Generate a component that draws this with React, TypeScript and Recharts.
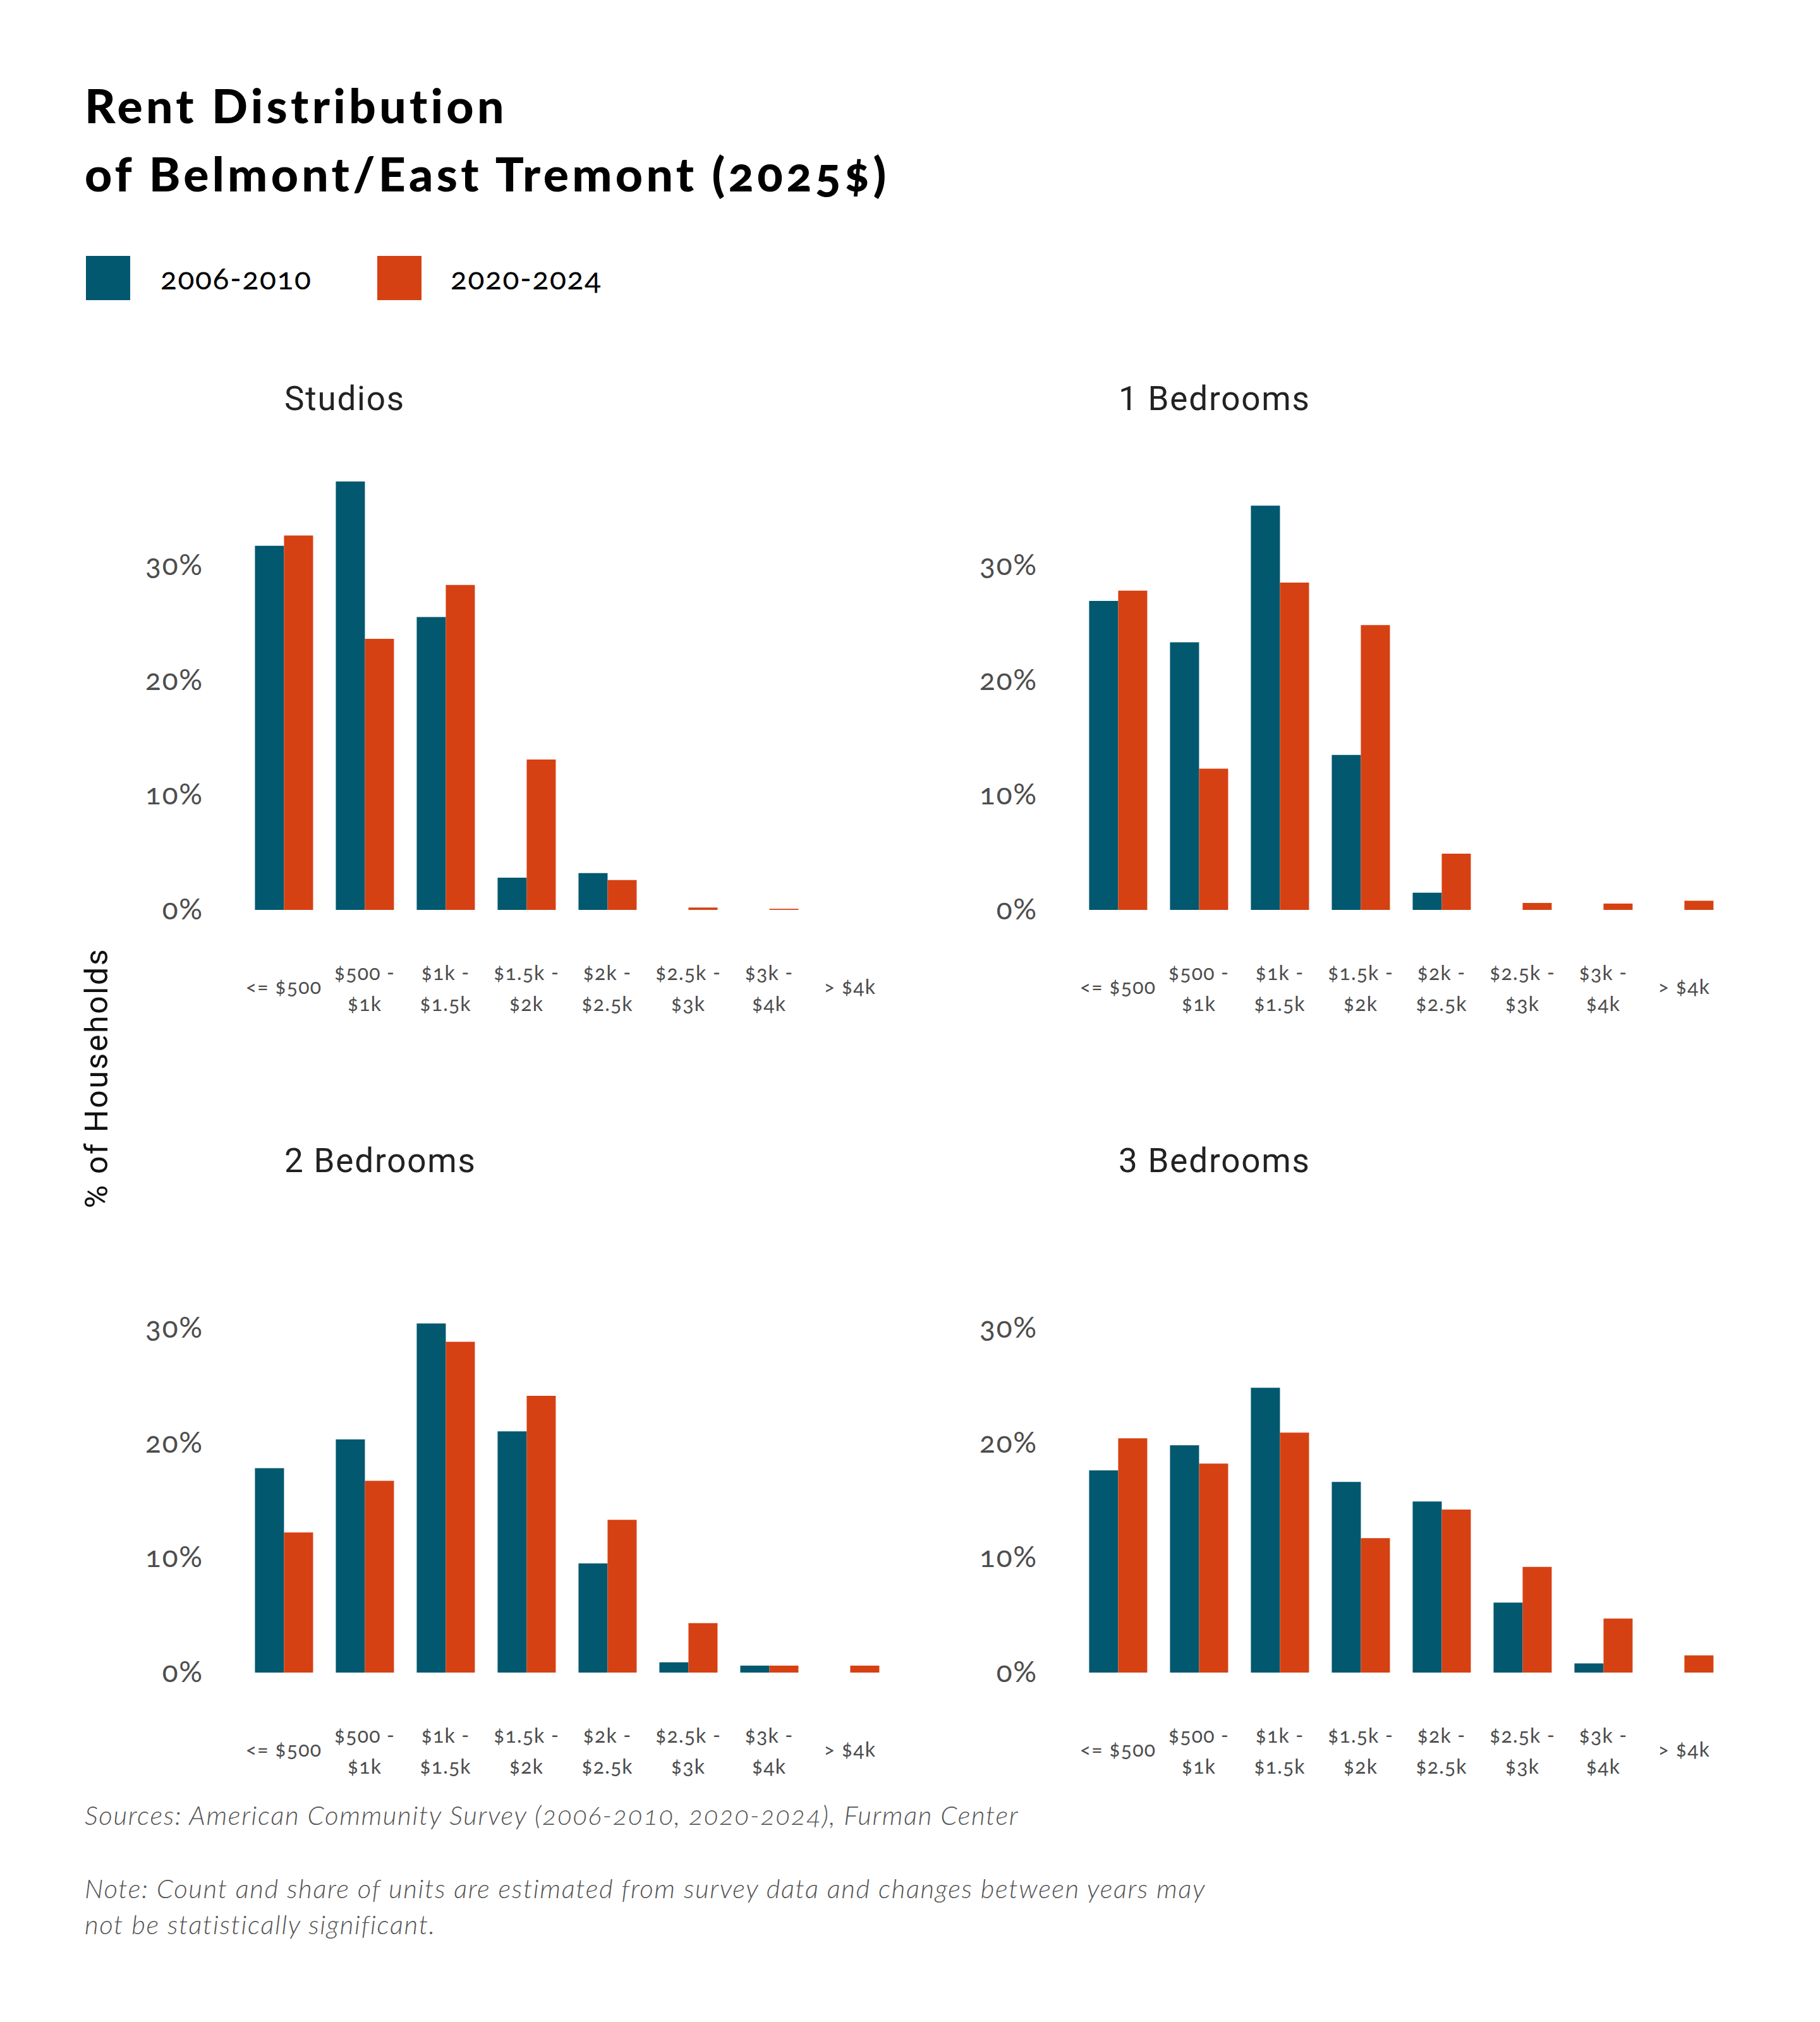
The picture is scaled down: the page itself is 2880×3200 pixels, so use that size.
import React from "react";
import { BarChart, Bar, XAxis, YAxis } from "recharts";

const CATEGORIES = ["<= $500", "$500 - $1k", "$1k - $1.5k", "$1.5k - $2k", "$2k - $2.5k", "$2.5k - $3k", "$3k - $4k", "> $4k"];
const TICK_LINES = [["<= $500"], ["$500 -", "$1k"], ["$1k -", "$1.5k"], ["$1.5k -", "$2k"], ["$2k -", "$2.5k"], ["$2.5k -", "$3k"], ["$3k -", "$4k"], ["> $4k"]];
const Y_TICKS = [0, 10, 20, 30];
const SERIES = ["2006-2010", "2020-2024"];

const STUDIOS_2006 = [31.7, 37.3, 25.5, 2.8, 3.2, 0, 0, 0];
const STUDIOS_2020 = [32.6, 23.6, 28.3, 13.1, 2.6, 0.2, 0.1, 0];
const BR1_2006 = [26.9, 23.3, 35.2, 13.5, 1.5, 0, 0, 0];
const BR1_2020 = [27.8, 12.3, 28.5, 24.8, 4.9, 0.6, 0.55, 0.8];
const BR2_2006 = [17.8, 20.3, 30.4, 21.0, 9.5, 0.9, 0.6, 0];
const BR2_2020 = [12.2, 16.7, 28.8, 24.1, 13.3, 4.3, 0.6, 0.6];
const BR3_2006 = [17.6, 19.8, 24.8, 16.6, 14.9, 6.1, 0.8, 0];
const BR3_2020 = [20.4, 18.2, 20.9, 11.7, 14.2, 9.2, 4.7, 1.5];

const BLUE = "#01586F";
const ORANGE = "#D64113";
const TICK_COLOR = "#4d4d4d";

const PLOT_W = 1024;
const PLOT_H = 727;
const ML = 200;
const MT = 20;
const MR = 20;
const XH = 200;
const YW = 100;

const XTick = (props: any) => {
  const { x, payload } = props;
  const idx = CATEGORIES.indexOf(payload.value);
  const lines = TICK_LINES[idx] || [payload.value];
  const base = MT + PLOT_H;
  const style = { fontVariantNumeric: "oldstyle-nums" as const };
  if (lines.length === 1) {
    return (
      <text x={x} y={base + 133} textAnchor="middle" fontFamily="Lato" fontSize={32} letterSpacing={1.2} fill={TICK_COLOR} style={style}>
        {lines[0]}
      </text>
    );
  }
  return (
    <text textAnchor="middle" fontFamily="Lato" fontSize={32} letterSpacing={1.2} fill={TICK_COLOR} style={style}>
      <tspan x={x} y={base + 111}>{lines[0]}</tspan>
      <tspan x={x} y={base + 160}>{lines[1]}</tspan>
    </text>
  );
};

const YTick = (props: any) => {
  const { y, payload } = props;
  return (
    <text x={ML - 63} y={y + 15} textAnchor="end" fontFamily="Lato" fontSize={46} letterSpacing={1.8} fill={TICK_COLOR} style={{ fontVariantNumeric: "oldstyle-nums" }}>
      {`${payload.value}%`}
    </text>
  );
};

const Panel = ({ a, b, plotLeft, plotBottom }: { a: number[]; b: number[]; plotLeft: number; plotBottom: number }) => {
  const data = CATEGORIES.map((c, i) => ({ cat: c, a: a[i], b: b[i] }));
  const W = ML + PLOT_W + MR;
  const H = MT + PLOT_H + XH;
  return (
    <div style={{ position: "absolute", left: plotLeft - ML, top: plotBottom - PLOT_H - MT, width: W, height: H }}>
      <BarChart width={W} height={H} data={data} margin={{ top: MT, right: MR, left: ML - YW, bottom: 0 }} barCategoryGap="14.4%" barGap={0}>
        <XAxis dataKey="cat" height={XH} axisLine={false} tickLine={false} interval={0} tick={<XTick />} />
        <YAxis width={YW} domain={[0, 40]} ticks={Y_TICKS} axisLine={false} tickLine={false} tick={<YTick />} />
        <Bar dataKey="a" name={SERIES[0]} fill={BLUE} isAnimationActive={false} />
        <Bar dataKey="b" name={SERIES[1]} fill={ORANGE} isAnimationActive={false} />
      </BarChart>
    </div>
  );
};

export default function App() {
  return (
    <div style={{ position: "absolute", left: 0, top: 0, width: 2880, height: 3200, background: "#ffffff", overflow: "hidden" }}>
      <svg width={2880} height={3200} style={{ position: "absolute", left: 0, top: 0 }}>
        <g fontFamily="Lato" fontWeight={900} fontSize={75} letterSpacing={5.3} fill="#000" style={{ fontVariantNumeric: "oldstyle-nums" }}>
          <text x={134} y={195}>Rent Distribution</text>
          <text x={134} y={303}>of Belmont/East Tremont (2025$)</text>
        </g>
        <rect x={136} y={405} width={70} height={70} fill={BLUE} />
        <text x={254} y={458} fontFamily="Lato" fontSize={48} letterSpacing={1.6} fill="#000" style={{ fontVariantNumeric: "oldstyle-nums" }}>{SERIES[0]}</text>
        <rect x={597} y={405} width={70} height={70} fill={ORANGE} />
        <text x={713} y={458} fontFamily="Lato" fontSize={48} letterSpacing={1.6} fill="#000" style={{ fontVariantNumeric: "oldstyle-nums" }}>{SERIES[1]}</text>

        <g fontFamily="Roboto" fontSize={53} letterSpacing={1.8} fill="#222">
          <text x={450} y={649}>Studios</text>
          <text x={1770} y={649}>1 Bedrooms</text>
          <text x={450} y={1855}>2 Bedrooms</text>
          <text x={1770} y={1855}>3 Bedrooms</text>
        </g>

        <text transform="translate(170,1706) rotate(-90)" textAnchor="middle" fontFamily="Roboto" fontSize={50} letterSpacing={2.6} fill="#111">% of Households</text>

        <g fontFamily="Lato" fontStyle="italic" fontWeight={300} fontSize={42} letterSpacing={1.6} fill="#555" style={{ fontVariantNumeric: "oldstyle-nums" }}>
          <text x={134} y={2888}>Sources: American Community Survey (2006-2010, 2020-2024), Furman Center</text>
          <text x={134} y={3004}>Note: Count and share of units are estimated from survey data and changes between years may</text>
          <text x={134} y={3061}>not be statistically significant.</text>
        </g>
      </svg>
      <Panel a={STUDIOS_2006} b={STUDIOS_2020} plotLeft={385} plotBottom={1440} />
      <Panel a={BR1_2006} b={BR1_2020} plotLeft={1705} plotBottom={1440} />
      <Panel a={BR2_2006} b={BR2_2020} plotLeft={385} plotBottom={2647} />
      <Panel a={BR3_2006} b={BR3_2020} plotLeft={1705} plotBottom={2647} />
    </div>
  );
}
